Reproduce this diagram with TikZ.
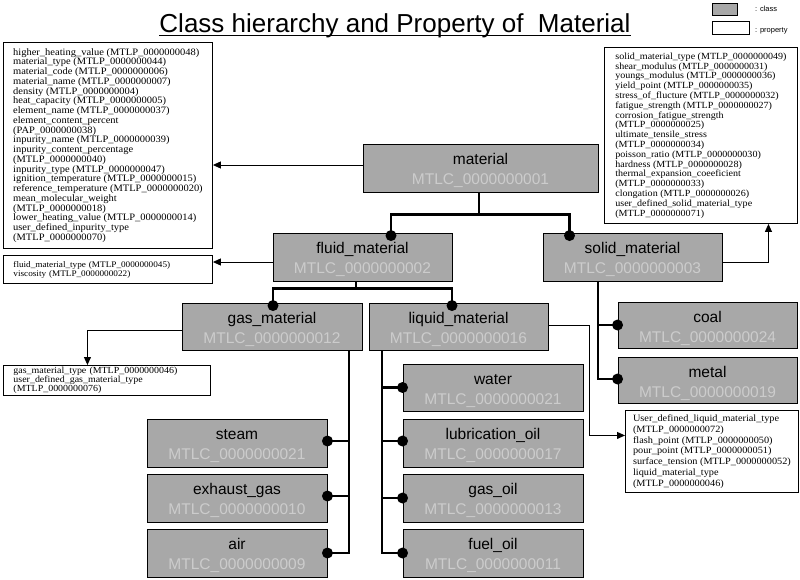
\documentclass[tikz,border=0pt]{standalone}
\usepackage{fontspec}
\setmainfont{Liberation Serif}
\setsansfont{Liberation Sans}
\newfontfamily\arialf{Liberation Sans}
\newfontfamily\propf[FakeStretch=1.07]{Liberation Serif}
\usetikzlibrary{arrows.meta,calc}

\definecolor{clsfill}{gray}{0.66}
\definecolor{idgray}{gray}{0.80}

\tikzset{
  clsbox/.style={draw=black, line width=0.9pt, fill=clsfill, inner sep=0pt},
  clsname/.style={anchor=base, inner sep=0pt, font=\arialf\fontsize{15.5}{18}\selectfont},
  clsid/.style={anchor=base, inner sep=0pt, text=idgray, font=\arialf\fontsize{15.5}{18}\selectfont},
  propbox/.style={draw=black, line width=0.9pt, fill=white, anchor=north west, inner xsep=0pt, inner ysep=0pt, align=left},
  tree/.style={line width=2.6pt},
  dotn/.style={circle, fill=black, inner sep=0pt, minimum size=11pt},
  parrow/.style={line width=0.9pt, -{Triangle[length=8pt,width=7pt]}},
  legtext/.style={anchor=west, inner sep=0pt, font=\arialf\fontsize{7.5}{9}\selectfont},
}

\newcommand{\classbox}[6]{%
  \node[clsbox, minimum width=#3, minimum height=#4] (#1) at #2 {};
  \node[clsname] (#1-n) at ([yshift=-20.5pt]#1.north) {#5};
  \node[clsid] (#1-i) at ([yshift=-41pt]#1.north) {#6};
}

\begin{document}
\begin{tikzpicture}[x=1pt,y=-1pt]
\fill[white] (0,0) rectangle (800,579);
\useasboundingbox (0,0) rectangle (800,579);

% title
\node[anchor=base, inner sep=0pt, font=\arialf\fontsize{26}{30}\selectfont] (title) at (395,32) {Class hierarchy and Property of\ \ Material};
\draw[line width=1.4pt] ([yshift=-3.5pt]title.base west) -- ([yshift=-3.5pt]title.base east);

% legend
\node[draw=black, line width=0.7pt, fill=clsfill, minimum width=25pt, minimum height=12pt, inner sep=0pt] (legcls) at (724.5,9) {};
\node[draw=black, line width=0.7pt, fill=white, minimum width=37pt, minimum height=13pt, inner sep=0pt] (legprop) at (730.5,27.5) {};
\node[legtext] (legclst) at (755,9) {: class};
\node[legtext] (legpropt) at (755,31) {: property};

% class boxes
\classbox{material}{(480.5,168)}{235pt}{48pt}{material}{MTLC\_0000000001}
\classbox{fluid}{(362.5,257)}{179pt}{48pt}{fluid\_material}{MTLC\_0000000002}
\classbox{solid}{(632.5,257)}{179pt}{48pt}{solid\_material}{MTLC\_0000000003}
\classbox{gas}{(272,326.5)}{180pt}{47pt}{gas\_material}{MTLC\_0000000012}
\classbox{liquid}{(458.5,326.5)}{179pt}{47pt}{liquid\_material}{MTLC\_0000000016}
\classbox{coal}{(707.5,325)}{179pt}{46pt}{coal}{MTLC\_0000000024}
\classbox{metal}{(707.5,380)}{179pt}{46pt}{metal}{MTLC\_0000000019}
\classbox{water}{(493,387.5)}{180pt}{47pt}{water}{MTLC\_0000000021}
\classbox{lub}{(493,443)}{180pt}{48pt}{lubrication\_oil}{MTLC\_0000000017}
\classbox{gasoil}{(493,498)}{180pt}{48pt}{gas\_oil}{MTLC\_0000000013}
\classbox{fuel}{(493,553)}{180pt}{48pt}{fuel\_oil}{MTLC\_0000000011}
\classbox{steam}{(237,443)}{180pt}{48pt}{steam}{MTLC\_0000000021}
\classbox{exhaust}{(237,498)}{180pt}{48pt}{exhaust\_gas}{MTLC\_0000000010}
\classbox{air}{(237,553)}{180pt}{48pt}{air}{MTLC\_0000000009}

% property boxes
\node[propbox, minimum width=209pt, minimum height=206pt, font=\propf\fontsize{9.8}{9.75}\selectfont] (lbox) at (3,42) {%
higher\_heating\_value (MTLP\_0000000048)\\
material\_type (MTLP\_0000000044)\\
material\_code (MTLP\_0000000006)\\
material\_name (MTLP\_0000000007)\\
density (MTLP\_0000000004)\\
heat\_capacity (MTLP\_0000000005)\\
element\_name (MTLP\_0000000037)\\
element\_content\_percent\\
(PAP\_0000000038)\\
inpurity\_name (MTLP\_0000000039)\\
inpurity\_content\_percentage\\
(MTLP\_0000000040)\\
inpurity\_type (MTLP\_0000000047)\\
ignition\_temperature (MTLP\_0000000015)\\
reference\_temperature (MTLP\_0000000020)\\
mean\_molecular\_weight\\
(MTLP\_0000000018)\\
lower\_heating\_value (MTLP\_0000000014)\\
user\_defined\_inpurity\_type\\
(MTLP\_0000000070)};

\node[propbox, minimum width=193pt, minimum height=176pt, font=\propf\fontsize{9.4}{9.8}\selectfont] (rbox) at (604,47) {%
solid\_material\_type (MTLP\_0000000049)\\
shear\_modulus (MTLP\_0000000031)\\
youngs\_modulus (MTLP\_0000000036)\\
yield\_point (MTLP\_0000000035)\\
stress\_of\_flucture (MTLP\_0000000032)\\
fatigue\_strength (MTLP\_0000000027)\\
corrosion\_fatigue\_strength\\
(MTLP\_0000000025)\\
ultimate\_tensile\_stress\\
(MTLP\_0000000034)\\
poisson\_ratio (MTLP\_0000000030)\\
hardness (MTLP\_0000000028)\\
thermal\_expansion\_coeeficient\\
(MTLP\_0000000033)\\
clongation (MTLP\_0000000026)\\
user\_defined\_solid\_material\_type\\
(MTLP\_0000000071)};

\node[propbox, minimum width=209pt, minimum height=28pt, inner xsep=10pt, text width=189pt, font=\propf\fontsize{8.6}{9}\selectfont] (fbox) at (3,255) {%
fluid\_material\_type (MTLP\_0000000045)\\
viscosity (MTLP\_0000000022)};

\node[propbox, minimum width=207pt, minimum height=30pt, inner xsep=10pt, text width=187pt, font=\propf\fontsize{9.3}{8.8}\selectfont] (gbox) at (3,365) {%
gas\_material\_type (MTLP\_0000000046)\\
user\_defined\_gas\_material\_type\\
(MTLP\_0000000076)};

\node[propbox, minimum width=173pt, minimum height=82pt, font=\propf\fontsize{9.6}{10.8}\selectfont] (bbox) at (625,410) {%
User\_defined\_liquid\_material\_type\\
(MTLP\_0000000072)\\
flash\_point (MTLP\_0000000050)\\
pour\_point (MTLP\_0000000051)\\
surface\_tension (MTLP\_0000000052)\\
liquid\_material\_type\\
(MTLP\_0000000046)};

% property arrows
\draw[parrow] ([yshift=3pt]material.west) -- ([yshift=3pt]material.west -| lbox.east);
\draw[parrow] ([yshift=-5pt]fluid.west) -- ([yshift=-5pt]fluid.west -| fbox.east);
\draw[parrow] ([yshift=-5pt]solid.east) -| ([xshift=67.5pt]rbox.south);
\draw[parrow] ([yshift=-3.5pt]gas.west) -| ([xshift=-19.5pt]gbox.north);
\draw[parrow] ([yshift=1.5pt]liquid.east) -| ([xshift=-36pt,yshift=16pt]bbox.west) -- ([yshift=16pt]bbox.west);

% tree: material
\coordinate (jm) at ([xshift=-1.5pt,yshift=-22pt]material.south);
\coordinate (pfl) at ([xshift=28.5pt,yshift=-3pt]fluid.north);
\coordinate (pso) at ([xshift=-63pt,yshift=-3pt]solid.north);
\draw[tree] ([xshift=-1.5pt]material.south) -- (jm);
\draw[tree] (pfl) |- (jm) -| (pso);

% tree: fluid
\coordinate (jf) at ([xshift=-6.5pt,yshift=-7pt]fluid.south);
\coordinate (pga) at ([xshift=1pt,yshift=-3pt]gas.north);
\coordinate (pli) at ([xshift=-6.5pt,yshift=-3pt]liquid.north);
\draw[tree] ([xshift=-6.5pt]fluid.south) -- (jf);
\draw[tree] (pga) |- (jf) -| (pli);

% tree: gas
\coordinate (gs) at ([xshift=77pt]gas.south);
\coordinate (pst) at ([yshift=2pt]steam.east);
\coordinate (pex) at ([yshift=2pt]exhaust.east);
\coordinate (pai) at ([yshift=0pt]air.east);
\draw[tree] (gs) |- (pai);
\draw[tree] (pst) -- (pst -| gs);
\draw[tree] (pex) -- (pex -| gs);

% tree: liquid
\coordinate (ls) at ([xshift=-76.5pt]liquid.south);
\coordinate (pwa) at (water.west);
\coordinate (plu) at ([yshift=2pt]lub.west);
\coordinate (pgo) at (gasoil.west);
\coordinate (pfu) at (fuel.west);
\draw[tree] (ls) |- (pfu);
\draw[tree] (pwa) -- (pwa -| ls);
\draw[tree] (plu) -- (plu -| ls);
\draw[tree] (pgo) -- (pgo -| ls);

% tree: solid
\coordinate (ss) at ([xshift=-34.5pt]solid.south);
\coordinate (pco) at (coal.west);
\coordinate (pme) at ([yshift=1pt]metal.west);
\draw[tree] (ss) |- (pme);
\draw[tree] (pco) -- (pco -| ss);

% dots
\foreach \p in {pfl,pso,pga,pli,pst,pex,pai,pwa,plu,pgo,pfu,pco,pme}
  \node[dotn] (d\p) at (\p) {};
\end{tikzpicture}
\end{document}
